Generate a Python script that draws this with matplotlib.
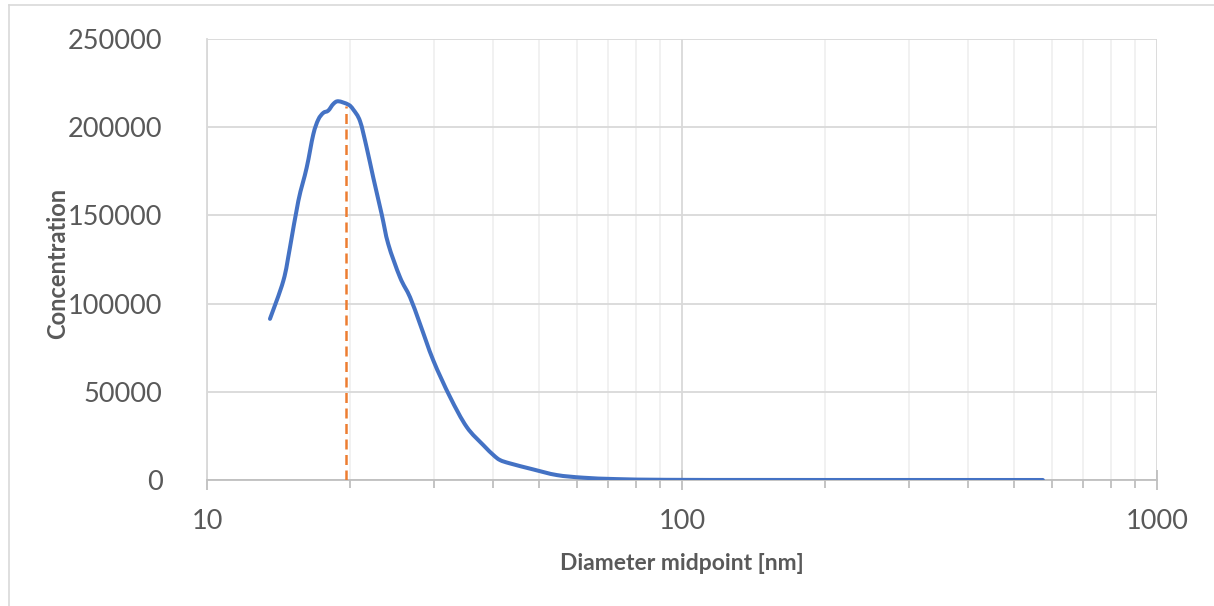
import matplotlib
matplotlib.use("Agg")
import numpy as np
import matplotlib.pyplot as plt
from matplotlib.ticker import LogLocator, NullFormatter, FixedLocator, FuncFormatter
from matplotlib.lines import Line2D
from matplotlib.path import Path
from matplotlib.patches import PathPatch

# Data
diameter_nm = [13.57, 14.48, 14.95, 15.57, 16.21, 16.74, 17.15, 17.57, 18.0, 18.45,
               18.9, 19.84, 20.32, 21.0, 21.69, 22.39, 23.32, 24.08, 25.49, 26.76,
               28.08, 29.95, 32.48, 35.21, 38.16, 40.1, 41.39, 43.45, 48.6, 54.5,
               62.0, 72.9, 92.9, 150.0, 300.0, 575.0]
concentration = [91350, 113000, 131800, 158200, 177000, 195900, 204300, 208100, 209400, 213200,
                 214700, 212800, 210000, 203400, 188300, 171400, 150700, 133700, 114900, 103600,
                 88500, 67800, 47100, 30100, 19800, 14100, 11300, 9400, 6000, 2800,
                 1300, 500, 100, 20, 5, 0]

mode_diameter = [19.6, 19.6]
mode_line_y = [0, 212000]

y_ticks = [0, 50000, 100000, 150000, 200000, 250000]
x_ticks = [10, 100, 1000]
x_tick_labels = ["10", "100", "1000"]

plt.rcParams['font.family'] = ['Lato', 'DejaVu Sans']

fig = plt.figure(figsize=(12.14, 6.06), dpi=100)
ax = fig.add_axes([207/1214, 126/606, 950/1214, 441/606])

# outer chart border (partially cropped in the reference)
fig.add_artist(Line2D([9/1214, 9/1214], [0, 1 - 5/606], transform=fig.transFigure,
                      color="#D9D9D9", lw=1.2))
fig.add_artist(Line2D([9/1214, 1.0], [1 - 5/606, 1 - 5/606], transform=fig.transFigure,
                      color="#D9D9D9", lw=1.2))


def smooth_path(xs, ys):
    """Excel-like smoothed line: Catmull-Rom Bezier segments in log-x space."""
    u = np.log10(np.asarray(xs, float))
    v = np.asarray(ys, float)
    pts = np.column_stack([u, v])
    n = len(pts)
    verts = [pts[0]]
    codes = [Path.MOVETO]
    for i in range(n - 1):
        p0 = pts[i - 1] if i > 0 else pts[i]
        p1 = pts[i]
        p2 = pts[i + 1]
        p3 = pts[i + 2] if i + 2 < n else pts[i + 1]
        c1 = p1 + (p2 - p0) / 6.0
        c2 = p2 - (p3 - p1) / 6.0
        verts += [c1, c2, p2]
        codes += [Path.CURVE4] * 3
    verts = np.array(verts)
    verts[:, 0] = 10 ** verts[:, 0]
    return Path(verts, codes)


ax.add_patch(PathPatch(smooth_path(diameter_nm, concentration), facecolor="none",
                       edgecolor="#4472C4", lw=2.9, capstyle="round", joinstyle="round",
                       zorder=3))
ax.plot(mode_diameter, mode_line_y, color="#ED7D31", lw=1.8, dashes=(4, 2.2), zorder=4)

ax.set_xscale("log")
ax.set_xlim(10, 1000)
ax.set_ylim(0, 250000)

ax.xaxis.set_major_locator(FixedLocator(x_ticks))
ax.xaxis.set_major_formatter(FuncFormatter(
    lambda v, p: x_tick_labels[x_ticks.index(int(round(v)))] if int(round(v)) in x_ticks else ""))
ax.xaxis.set_minor_locator(LogLocator(base=10, subs=range(2, 10)))
ax.xaxis.set_minor_formatter(NullFormatter())
ax.yaxis.set_major_locator(FixedLocator(y_ticks))
ax.yaxis.set_major_formatter(FuncFormatter(lambda v, p: f"{int(v)}"))

ax.grid(which="major", axis="y", color="#D9D9D9", lw=1.3)
ax.grid(which="major", axis="x", color="#D9D9D9", lw=1.3)
ax.grid(which="minor", axis="x", color="#EEEEEE", lw=1.1)
ax.set_axisbelow(True)

for s in ["top", "right"]:
    ax.spines[s].set_visible(False)
ax.spines["left"].set_color("#D9D9D9")
ax.spines["left"].set_linewidth(1.3)
ax.spines["bottom"].set_color("#BFBFBF")
ax.spines["bottom"].set_linewidth(1.3)

ax.tick_params(axis="y", which="both", length=0, pad=32, labelsize=19.5, labelcolor="#595959")
ax.tick_params(axis="x", which="major", direction="inout", length=14, width=1.3,
               color="#BFBFBF", pad=14, labelsize=19.5, labelcolor="#595959")
ax.tick_params(axis="x", which="minor", direction="out", length=6, width=1.3, color="#BFBFBF")

ax.set_xlabel("Diameter midpoint [nm]", fontsize=16.5, fontweight="bold", color="#595959")
ax.set_ylabel("Concentration", fontsize=17, fontweight="bold", color="#595959")
ax.xaxis.set_label_coords(0.5, (480 - 563) / 441)
ax.xaxis.label.set_va("center")
ax.yaxis.set_label_coords((58 - 207) / 950, (480 - 263) / 441)
ax.yaxis.label.set_va("center")

fig.savefig("out.png", dpi=100, facecolor="white")
